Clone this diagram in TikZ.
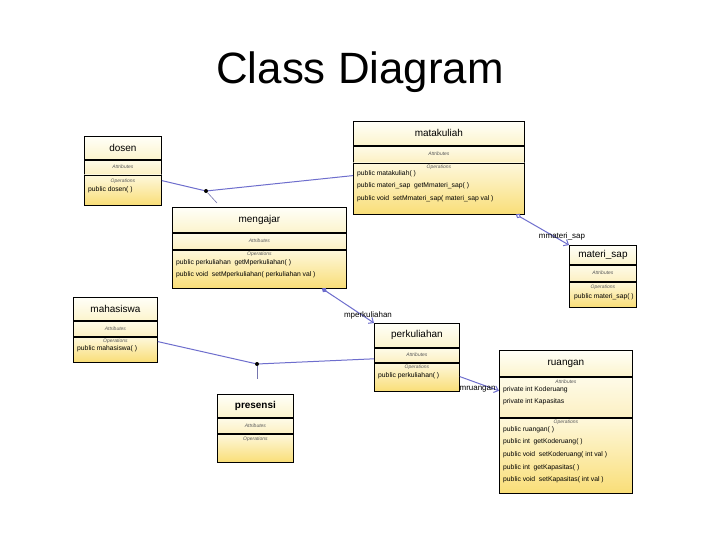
\documentclass[tikz,border=0pt]{standalone}
\usepackage{fontspec}
\setmainfont{Liberation Sans}
\usetikzlibrary{positioning,arrows.meta}

\definecolor{umlblue}{RGB}{110,110,205}
\definecolor{hdrtop}{RGB}{255,255,248}
\definecolor{hdrbot}{RGB}{252,244,205}
\definecolor{attrtop}{RGB}{254,251,232}
\definecolor{attrbot}{RGB}{252,240,195}
\definecolor{opstop}{RGB}{254,248,220}
\definecolor{opsbot}{RGB}{249,222,120}

\tikzset{
  box/.style={draw=black, line width=0.8bp, inner sep=0pt},
  hdr/.style={box, anchor=north west, top color=hdrtop, bottom color=hdrbot,
    font=\fontsize{10}{12}\selectfont},
  attr/.style={box, top color=attrtop, bottom color=attrbot,
    font=\fontsize{5}{6}\selectfont\itshape, text=black!65},
  ops/.style={box, top color=opstop, bottom color=opsbot},
  sec/.style={inner sep=0pt, anchor=north, font=\fontsize{5}{6}\selectfont\itshape, text=black!65},
  meth/.style={inner sep=0pt, anchor=north west, align=left,
    font=\fontsize{6.8}{12.7}\selectfont},
  joint/.style={circle, fill=black, inner sep=0pt, minimum size=4bp},
  assoc/.style={draw=umlblue, line width=1bp},
  aclink/.style={draw=umlblue!60!gray, line width=0.6bp},
  nav/.style={assoc, -{Straight Barb[length=4bp,width=7bp]}},
  navfill/.style={assoc, {Diamond[length=6bp,width=5bp]}-{Straight Barb[length=4bp,width=7bp]}},
  navopen/.style={assoc, {Diamond[open,length=6bp,width=5bp]}-{Straight Barb[length=4bp,width=7bp]}},
  lbl/.style={inner sep=0pt, font=\fontsize{8}{9}\selectfont}
}

\begin{document}
\begin{tikzpicture}[x=1bp, y=-1bp]
    \useasboundingbox[fill=white] (0,0) rectangle (720,540);
    \node[font=\fontsize{44}{50}\selectfont, anchor=base] (title) at (360,84) {Class Diagram};

    % dosen
    \node[hdr, minimum width=77bp, minimum height=23bp] (dosen) at (84,136) {dosen};
    \node[attr, minimum width=77bp, minimum height=14bp, below=0pt of dosen] (dosen-a) {Attributes};
    \node[ops, minimum width=77bp, minimum height=30bp, below=0pt of dosen-a] (dosen-o) {};
    \node[sec] (dosen-ol) at ([yshift=-4.5bp]dosen-o.north) {Operations};
    \node[meth] (dosen-m) at (88,186) {public dosen( )};

    % matakuliah
    \node[hdr, minimum width=171bp, minimum height=24bp] (mk) at (353,121) {matakuliah};
    \node[attr, minimum width=171bp, minimum height=16bp, below=0pt of mk] (mk-a) {Attributes};
    \node[ops, minimum width=171bp, minimum height=51bp, below=0pt of mk-a] (mk-o) {};
    \node[sec] (mk-ol) at ([yshift=-2bp]mk-o.north) {Operations};
    \node[meth] (mk-m) at (357,170) {public matakuliah( )\\
      public materi\_sap\ \ getMmateri\_sap( )\\
      public void\ \ setMmateri\_sap( materi\_sap val )};

    % mengajar
    \node[hdr, minimum width=174bp, minimum height=25bp] (mengajar) at (172,207) {mengajar};
    \node[attr, minimum width=174bp, minimum height=16bp, below=0pt of mengajar] (mengajar-a) {Attributes};
    \node[ops, minimum width=174bp, minimum height=38bp, below=0pt of mengajar-a] (mengajar-o) {};
    \node[sec] (mengajar-ol) at ([yshift=-2bp]mengajar-o.north) {Operations};
    \node[meth] (mengajar-m) at (176,259) {public perkuliahan\ \ getMperkuliahan( )\\
      public void\ \ setMperkuliahan( perkuliahan val )};

    % materi_sap
    \node[hdr, minimum width=67bp, minimum height=19bp] (mat) at (569,245) {materi\_sap};
    \node[attr, minimum width=67bp, minimum height=16bp, below=0pt of mat] (mat-a) {Attributes};
    \node[ops, minimum width=67bp, minimum height=25bp, below=0pt of mat-a] (mat-o) {};
    \node[sec] (mat-ol) at ([yshift=-3bp]mat-o.north) {Operations};
    \node[meth] (mat-m) at (574,293) {public materi\_sap( )};

    % mahasiswa
    \node[hdr, minimum width=84bp, minimum height=23bp] (mhs) at (73,297) {mahasiswa};
    \node[attr, minimum width=84bp, minimum height=15bp, below=0pt of mhs] (mhs-a) {Attributes};
    \node[ops, minimum width=84bp, minimum height=25bp, below=0pt of mhs-a] (mhs-o) {};
    \node[sec] (mhs-ol) at ([yshift=-2.5bp]mhs-o.north) {Operations};
    \node[meth] (mhs-m) at (77,345) {public mahasiswa( )};

    % perkuliahan
    \node[hdr, minimum width=85bp, minimum height=24bp] (pk) at (374,323) {perkuliahan};
    \node[attr, minimum width=85bp, minimum height=14bp, below=0pt of pk] (pk-a) {Attributes};
    \node[ops, minimum width=85bp, minimum height=28bp, below=0pt of pk-a] (pk-o) {};
    \node[sec] (pk-ol) at ([yshift=-2.5bp]pk-o.north) {Operations};
    \node[meth] (pk-m) at (378,372) {public perkuliahan( )};

    % ruangan
    \node[hdr, minimum width=133bp, minimum height=26bp] (ruangan) at (499,350) {ruangan};
    \node[attr, minimum width=133bp, minimum height=40bp, below=0pt of ruangan] (ruangan-a) {};
    \node[ops, minimum width=133bp, minimum height=75bp, below=0pt of ruangan-a] (ruangan-o) {};
    \draw[line width=2bp] (ruangan.south west) -- (ruangan.south east);
    \node[sec] (ruangan-al) at ([yshift=-2.5bp]ruangan-a.north) {Attributes};
    \node[meth] (ruangan-am) at (503,386) {private int Koderuang\\
      private int Kapasitas};
    \node[sec] (ruangan-ol) at ([yshift=-2bp]ruangan-o.north) {Operations};
    \node[meth] (ruangan-m) at (503,426) {public ruangan( )\\
      public int\ \ getKoderuang( )\\
      public void\ \ setKoderuang( int val )\\
      public int\ \ getKapasitas( )\\
      public void\ \ setKapasitas( int val )};

    % presensi
    \node[hdr, minimum width=76bp, minimum height=23bp, font=\fontsize{10}{12}\selectfont\bfseries] (presensi) at (217,394) {presensi};
    \node[attr, minimum width=76bp, minimum height=15bp, below=0pt of presensi] (presensi-a) {Attributes};
    \node[ops, minimum width=76bp, minimum height=28bp, below=0pt of presensi-a] (presensi-o) {};
    \node[sec] (presensi-ol) at ([yshift=-3.5bp]presensi-o.north) {Operations};

    % associations
    \node[joint] (j1) at (206,191) {};
    \draw[assoc] ([yshift=-6bp]dosen-o.north east) -- (j1);
    \draw[assoc] (j1) -- ([yshift=-13bp]mk-o.north west);
    \coordinate (ac1) at (217,203);
    \draw[aclink] (j1) -- (ac1);

    \node[joint] (j2) at (257,364) {};
    \draw[assoc] ([yshift=-5bp]mhs-o.north east) -- (j2);
    \draw[assoc] (j2) -- ([yshift=-11bp]pk-a.north west);
    \coordinate (ac2) at (257,379);
    \draw[aclink] (j2) -- (ac2);

    \draw[navfill] ([xshift=-25bp]mengajar-o.south east) -- (pk.north west)
      node[lbl, pos=1, anchor=south, xshift=-6bp, yshift=3bp] (lbl-pk) {mperkuliahan};
    \draw[navopen] ([xshift=-9bp]mk-o.south east) -- (mat.north west)
      node[lbl, pos=1, anchor=south, xshift=-7bp, yshift=4bp] (lbl-mat) {mmateri\_sap};
    \draw[nav] ([yshift=-14bp]pk-o.north east) -- ([yshift=-14bp]ruangan-a.north west)
      node[lbl, pos=1, anchor=east, xshift=-3bp, yshift=2bp] (lbl-ru) {mruangan};
\end{tikzpicture}
\end{document}
